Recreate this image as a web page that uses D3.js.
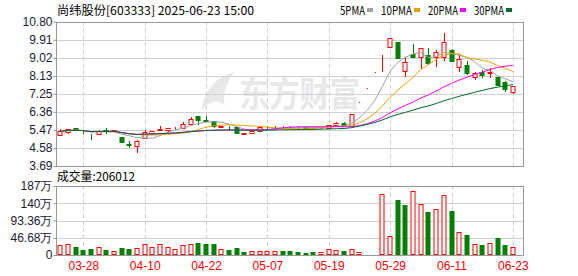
<!DOCTYPE html>
<html>
<head>
<meta charset="utf-8">
<script src="https://cdn.jsdelivr.net/npm/d3@7"></script>
<style>
body { margin: 0; background: #fff; }
svg { display: block; }
text { font-family: Arial, "Liberation Sans", sans-serif; }
</style>
</head>
<body>
<div id="chart"></div>
<script>
// Data
var dates = ["03-25","03-26","03-27","03-28","03-31","04-01","04-02","04-03","04-07","04-08",
             "04-09","04-10","04-11","04-14","04-15","04-16","04-17","04-18","04-21","04-22",
             "04-23","04-24","04-25","04-28","04-29","04-30","05-06","05-07","05-08","05-09",
             "05-12","05-13","05-14","05-15","05-16","05-19","05-20","05-21","05-22","05-23",
             "05-26","05-27","05-28","05-29","05-30","06-03","06-04","06-05","06-06","06-09",
             "06-10","06-11","06-12","06-13","06-16","06-17","06-18","06-19","06-20","06-23"];
var open  = [5.24,5.36,5.55,5.40,5.17,5.27,5.44,5.42,5.11,4.76, 4.70,5.07,5.32,5.47,5.48,5.56,5.57,5.77,6.13,5.94,
             5.91,5.63,5.62,5.60,5.28,5.31,5.43,5.62,5.60,5.63, 5.62,5.61,5.60,5.58,5.56,5.58,5.73,5.83,5.67,6.86,
             7.55,8.31,9.14,9.57,9.79,8.39,9.21,9.08,9.16,9.08, 9.08,9.41,8.58,8.67,8.06,8.34,8.27,8.06,7.85,7.32];
var high  = [5.52,5.53,5.58,5.43,5.27,5.45,5.54,5.47,5.13,4.91, 4.96,5.44,5.41,5.68,5.57,5.63,5.87,6.11,6.13,6.15,
             5.93,5.67,5.67,5.61,5.31,5.45,5.60,5.64,5.68,5.66, 5.65,5.66,5.62,5.62,5.60,5.72,5.86,5.85,6.24,6.86,
             7.55,8.31,9.14,10.00,9.80,9.05,9.70,9.50,9.49,9.41, 10.23,9.46,9.21,8.88,8.34,8.40,8.53,8.08,7.87,7.64];
var low   = [5.22,5.33,5.44,5.32,5.03,5.25,5.34,5.40,4.85,4.63, 4.38,5.05,5.30,5.46,5.39,5.52,5.55,5.75,5.78,5.93,
             5.63,5.62,5.52,5.32,5.26,5.30,5.42,5.55,5.55,5.57, 5.57,5.56,5.56,5.50,5.54,5.57,5.70,5.65,5.66,6.86,
             7.55,8.31,8.35,9.55,9.02,8.13,9.05,8.50,8.72,8.62, 8.91,8.88,8.39,8.22,7.96,8.08,8.09,7.66,7.40,7.30];
var close = [5.39,5.50,5.46,5.39,5.16,5.43,5.42,5.44,4.86,4.74, 4.94,5.37,5.39,5.49,5.56,5.57,5.78,6.03,5.95,5.93,
             5.65,5.66,5.60,5.32,5.30,5.42,5.59,5.60,5.62,5.61, 5.60,5.59,5.58,5.55,5.58,5.71,5.83,5.67,6.24,6.86,
             7.55,8.31,9.14,9.98,9.03,8.80,9.08,9.49,8.75,9.29, 9.82,8.88,8.95,8.27,8.28,8.17,8.30,7.68,7.49,7.63];
// volume in 万
var volume = [27,30,21.6,13.5,16,21.6,13.5,10.8,19,16, 19,30,21.6,30,21.6,16,27,30,32.5,30,
              30,16,13.5,19,8,10.8,10.8,10.8,10.8,10.8, 10.8,8,5.4,8,8,15.5,13.5,10.8,15.5,8,
              2.7,2.7,165,51,149,136,173,138,116,124.5, 162,119,62,54,30,27,32.5,46,27,20.6];

var priceTicks = [3.69, 4.58, 5.47, 6.36, 7.25, 8.13, 9.02, 9.91, 10.80];
var volTicks = [0, 46.68, 93.36, 140.04, 186.72];
var volTickLabels = ["0", "46.68万", "93.36万", "140万", "187万"];
var xTicks = ["03-28","04-10","04-22","05-07","05-19","05-29","06-11","06-23"];

var maDays = [5, 10, 20, 30];
var maNames = ["5PMA", "10PMA", "20PMA", "30PMA"];
var maColors = ["#a0a0a0", "#f0a000", "#ff00ff", "#006a30"];

var title = "尚纬股份[603333] 2025-06-23 15:00";
var volTitle = "成交量:206012";

// Layout
var W = 578, H = 276;
var L = 56, R = 523;
var pTop = 21.7, pBot = 166;
var vTop = 186, vBot = 255;
var UP = "#ff0000", DOWN = "#008000", GRID = "#d0d0d0", FRAME = "#999";

var svg = d3.select("#chart").append("svg")
    .attr("width", W)
    .attr("height", H);

var x = d3.scalePoint().domain(dates).range([56.5, 516.7]).padding(0.5);
var y = d3.scaleLinear().domain([3.69, 10.80]).range([pBot, pTop]);
var vy = d3.scaleLinear().domain([0, 186.72]).range([vBot, vTop]);

// watermark
var wm = svg.append("g").attr("fill", "#e8e8e8");
wm.append("path")
    .attr("d", "M202,109 C204,92 214,78 234,72 C226,84 222,95 225,106 C218,99 211,101 202,109 Z");
wm.append("text")
    .attr("x", 239).attr("y", 107)
    .style("font-family", "'Noto Sans CJK SC', sans-serif")
    .style("font-size", "35px")
    .style("font-weight", "bold")
    .attr("textLength", 121)
    .attr("lengthAdjust", "spacingAndGlyphs")
    .text("东方财富");

// grid: price
svg.append("g")
    .attr("transform", "translate(" + L + ",0)")
    .call(d3.axisLeft(y).tickValues(priceTicks).tickSize(-(R - L)).tickFormat(""))
    .call(function(g) {
        g.select(".domain").remove();
        g.selectAll("line").attr("stroke", GRID).attr("shape-rendering", "crispEdges");
    });
// grid: volume
svg.append("g")
    .attr("transform", "translate(" + L + ",0)")
    .call(d3.axisLeft(vy).tickValues(volTicks).tickSize(-(R - L)).tickFormat(""))
    .call(function(g) {
        g.select(".domain").remove();
        g.selectAll("line").attr("stroke", GRID).attr("shape-rendering", "crispEdges");
    });
// dashed verticals
[[pTop, pBot], [vTop, vBot]].forEach(function(p) {
    svg.append("g").selectAll("line")
        .data(xTicks)
        .enter().append("line")
            .attr("x1", function(d) { return Math.round(x(d)) + 0.5; })
            .attr("x2", function(d) { return Math.round(x(d)) + 0.5; })
            .attr("y1", p[0]).attr("y2", p[1])
            .attr("stroke", GRID)
            .attr("stroke-dasharray", "4,3");
});

// frames
svg.append("rect").attr("x", L + 0.5).attr("y", Math.round(pTop) + 0.5)
    .attr("width", R - L).attr("height", Math.round(pBot) - Math.round(pTop))
    .attr("fill", "none").attr("stroke", FRAME);
svg.append("rect").attr("x", L + 0.5).attr("y", vTop + 0.5)
    .attr("width", R - L).attr("height", vBot - vTop)
    .attr("fill", "none").attr("stroke", FRAME);

// axes labels
function styleAxis(g) {
    g.select(".domain").remove();
    g.selectAll("line").attr("stroke", FRAME);
    g.selectAll("text").style("font-size", "12px").attr("fill", "#1a1a33");
}
svg.append("g")
    .attr("transform", "translate(" + (L + 0.5) + ",0)")
    .call(d3.axisLeft(y).tickValues(priceTicks).tickSize(3).tickPadding(1).tickFormat(d3.format(".2f")))
    .call(styleAxis);
svg.append("g")
    .attr("transform", "translate(" + (L + 0.5) + ",0)")
    .call(d3.axisLeft(vy).tickValues(volTicks).tickSize(3).tickPadding(1)
        .tickFormat(function(d, i) { return volTickLabels[i]; }))
    .call(styleAxis);
svg.append("g")
    .attr("transform", "translate(0," + vBot + ")")
    .call(d3.axisBottom(x).tickValues(xTicks).tickSize(0).tickPadding(6.5))
    .call(function(g) {
        g.select(".domain").remove();
        g.selectAll("text").style("font-size", "12px").attr("fill", UP);
    });

// candles
function upAt(i) {
    if (close[i] > open[i]) return true;
    if (close[i] < open[i]) return false;
    return i === 0 || close[i] >= close[i - 1];
}
function volUp(i) {
    return i === 0 ? close[i] >= open[i] : close[i] >= close[i - 1];
}
var idx = d3.range(dates.length);
var cx = function(i) { return Math.round(x(dates[i])); };

var candles = svg.append("g").selectAll("g")
    .data(idx)
    .enter().append("g");
candles.append("line")
    .attr("x1", function(i) { return cx(i) + 0.5; })
    .attr("x2", function(i) { return cx(i) + 0.5; })
    .attr("y1", function(i) { return Math.round(y(high[i])); })
    .attr("y2", function(i) { return Math.round(y(low[i])) + 1; })
    .attr("stroke", function(i) { return upAt(i) ? UP : DOWN; });
candles.append("rect")
    .attr("x", function(i) { return cx(i) - 2; })
    .attr("width", 4)
    .attr("y", function(i) { return Math.round(y(Math.max(open[i], close[i]))) + 0.5; })
    .attr("height", function(i) {
        return Math.max(0, Math.round(y(Math.min(open[i], close[i]))) - Math.round(y(Math.max(open[i], close[i]))));
    })
    .attr("fill", function(i) { return upAt(i) ? "#fff" : DOWN; })
    .attr("stroke", function(i) { return upAt(i) ? UP : DOWN; });

// moving averages
maDays.forEach(function(n, k) {
    var ma = idx.map(function(i) { return d3.mean(close.slice(Math.max(0, i - n + 1), i + 1)); });
    svg.append("path")
        .datum(idx)
        .attr("fill", "none")
        .attr("stroke", maColors[k])
        .attr("stroke-width", 1)
        .attr("d", d3.line()
            .x(function(i) { return x(dates[i]); })
            .y(function(i) { return y(ma[i]); }));
});

// volume bars
svg.append("g").selectAll("rect")
    .data(idx)
    .enter().append("rect")
        .attr("x", function(i) { return cx(i) - 2; })
        .attr("width", 4)
        .attr("y", function(i) { return Math.round(vy(volume[i])) + 0.5; })
        .attr("height", function(i) { return Math.max(0, vBot - Math.round(vy(volume[i])) - 1); })
        .attr("fill", function(i) { return volUp(i) ? "#fff" : DOWN; })
        .attr("stroke", function(i) { return volUp(i) ? UP : DOWN; });

// header + legend
var cjk = "'Noto Sans CJK SC', sans-serif";
svg.append("text")
    .attr("x", 57).attr("y", 15)
    .style("font-family", cjk).style("font-size", "12px")
    .attr("textLength", 197).attr("lengthAdjust", "spacingAndGlyphs")
    .text(title);
svg.append("text")
    .attr("x", 57).attr("y", 181)
    .style("font-family", cjk).style("font-size", "12px")
    .attr("textLength", 78).attr("lengthAdjust", "spacingAndGlyphs")
    .text(volTitle);

var legX = [340, 381, 428, 474];
var legW = [25, 31, 30, 30];
var leg = svg.append("g").selectAll("g")
    .data(maNames)
    .enter().append("g");
leg.append("text")
    .attr("x", function(d, k) { return legX[k]; })
    .attr("y", 15)
    .style("font-family", cjk).style("font-size", "12px")
    .attr("textLength", function(d, k) { return legW[k]; })
    .attr("lengthAdjust", "spacingAndGlyphs")
    .text(function(d) { return d; });
leg.append("rect")
    .attr("x", function(d, k) { return legX[k] + legW[k] + 2; })
    .attr("y", 8)
    .attr("width", 6).attr("height", 4)
    .attr("fill", function(d, k) { return maColors[k]; });
</script>
</body>
</html>
